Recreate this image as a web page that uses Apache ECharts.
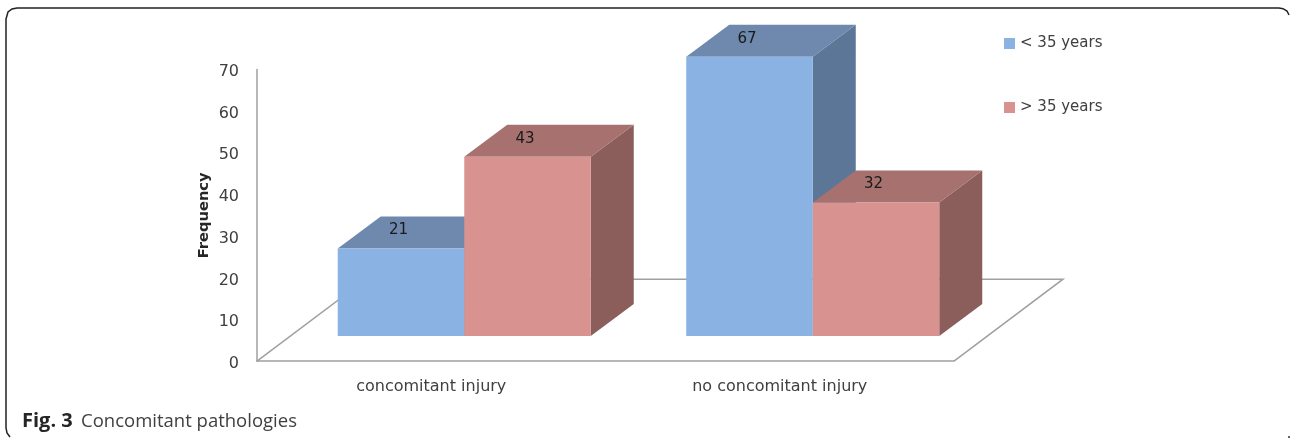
<!DOCTYPE html>
<html>
<head>
<meta charset="utf-8">
<style>html,body{margin:0;padding:0;background:#fff}#c{width:1290px;height:438px}</style>
<script src="https://cdn.jsdelivr.net/npm/echarts@6/dist/echarts.min.js"></script>
</head>
<body>
<div id="c"></div>
<script>
var categories = ['concomitant injury', 'no concomitant injury'];
var youngLabel = '< 35 years';
var olderLabel = '> 35 years';
var youngValues = [21, 67];
var olderValues = [43, 32];

var chart = echarts.init(document.getElementById('c'), null, {renderer: 'canvas'});
var FONT = '"DejaVu Sans"';
var DEPTH_X = 43, DEPTH_Y = 32, FRONT_X = 33, FRONT_Y = 25.3, BAR_FRAC = 0.363;

function box(side, face, top, wall) {
  return function (params, api) {
    var v = api.value(1);
    var base = api.coord([api.value(0), 0]);
    var peak = api.coord([api.value(0), v]);
    var w = api.size([1, 0])[0] * BAR_FRAC;
    var x0 = base[0] + FRONT_X + (side < 0 ? -w : 0);
    var x1 = x0 + w;
    var yb = base[1] - FRONT_Y;
    var yt = peak[1] - FRONT_Y;
    return {
      type: 'group',
      children: [
        {type: 'polygon', shape: {points: [[x1, yb], [x1 + DEPTH_X, yb - DEPTH_Y], [x1 + DEPTH_X, yt - DEPTH_Y], [x1, yt]]}, style: {fill: wall}},
        {type: 'polygon', shape: {points: [[x0, yt], [x0 + DEPTH_X, yt - DEPTH_Y], [x1 + DEPTH_X, yt - DEPTH_Y], [x1, yt]]}, style: {fill: top}},
        {type: 'rect', shape: {x: x0, y: yt, width: w, height: yb - yt}, style: {fill: face}},
        {type: 'text', x: (x0 + x1) / 2 - 2.5, y: yt - 18, style: {text: String(v), fill: '#1a1a1a', font: '15px ' + FONT, align: 'center', verticalAlign: 'middle'}}
      ]
    };
  };
}

function floor(params, api) {
  var cs = params.coordSys;
  var l = cs.x, r = cs.x + cs.width, b = cs.y + cs.height;
  return {
    type: 'polyline',
    shape: {points: [[l, b], [l + 109, b - 82], [r + 109, b - 82], [r, b]]},
    style: {fill: null, stroke: '#a0a0a0', lineWidth: 1.5}
  };
}

chart.setOption({
  animation: false,
  backgroundColor: '#fff',
  grid: {left: 257, top: 69.5, width: 697, height: 291.7},
  legend: {
    left: 1004, top: 36, padding: 0, orient: 'vertical', itemWidth: 11, itemHeight: 11, itemGap: 49, icon: 'rect',
    data: [youngLabel, olderLabel],
    textStyle: {fontFamily: FONT, fontSize: 15, color: '#404040'}
  },
  xAxis: {
    type: 'category', data: categories,
    axisLine: {show: true, lineStyle: {color: '#a0a0a0', width: 1.5}},
    axisTick: {show: false},
    axisLabel: {fontFamily: FONT, fontSize: 16, color: '#404040', margin: 18}
  },
  yAxis: {
    type: 'value', min: 0, max: 70, interval: 10,
    name: 'Frequency', nameLocation: 'middle', nameGap: 45, nameRotate: 90, nameMoveOverlap: false,
    nameTextStyle: {fontFamily: FONT, fontSize: 14.7, fontWeight: 'bold', color: '#262626'},
    axisLine: {show: true, lineStyle: {color: '#a0a0a0', width: 1.5}},
    axisTick: {show: false},
    splitLine: {show: false},
    axisLabel: {fontFamily: FONT, fontSize: 16, color: '#404040', margin: 18, verticalAlign: 'top', lineHeight: 5}
  },
  series: [
    {type: 'custom', silent: true, z: 1, data: [[0, 0]], renderItem: floor},
    {type: 'custom', name: youngLabel, z: 2, itemStyle: {color: '#8AB2E2'},
      data: youngValues.map(function (v, i) { return [i, v]; }),
      encode: {x: 0, y: 1}, renderItem: box(-1, '#8AB2E2', '#6E89AD', '#5B7696')},
    {type: 'custom', name: olderLabel, z: 3, itemStyle: {color: '#D89391'},
      data: olderValues.map(function (v, i) { return [i, v]; }),
      encode: {x: 0, y: 1}, renderItem: box(1, '#D89391', '#A6716F', '#8B5E5C')}
  ],
  graphic: [
    {type: 'polyline', silent: true,
      shape: {points: [[1289, 15], [1287, 11], [1283, 8.7], [1279, 8], [17, 8], [12, 9], [8, 12], [6, 19], [6, 428], [7, 433], [10, 437]]},
      style: {fill: null, stroke: '#222', lineWidth: 1.5}},
    {type: 'rect', silent: true, shape: {x: 1288, y: 436, width: 2, height: 2}, style: {fill: '#666'}},
    {type: 'text', x: 22, y: 421.5, silent: true,
      style: {
        text: '{b|Fig. 3} {n|Concomitant pathologies}',
        verticalAlign: 'middle',
        rich: {
          b: {fontFamily: '"Open Sans"', fontSize: 20, fontWeight: 700, fill: '#262626'},
          n: {fontFamily: '"Open Sans"', fontSize: 18.5, fill: '#404040', padding: [0, 0, 0, 5]}
        }
      }}
  ]
});
</script>
</body>
</html>
